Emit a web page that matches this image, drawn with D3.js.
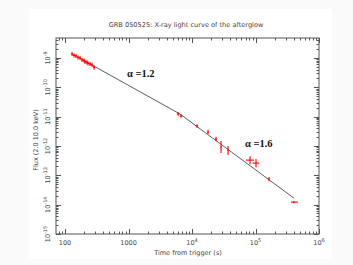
<!DOCTYPE html>
<html><head><meta charset="utf-8">
<script src="https://cdn.jsdelivr.net/npm/d3@7"></script>
<style>
html,body{margin:0;padding:0;background:#fff;}
svg{display:block;}
</style></head>
<body>
<svg id="c" width="353" height="265"></svg>
<script>
// ---- data ----
const title = "GRB 050525: X-ray light curve of the afterglow";
const xTitle = "Time from trigger (s)";
const yTitle = "Flux (2.0 10.0 keV)";
const xTickValues = [100, 1000, 1e4, 1e5, 1e6];
const xTickLabels = [["100",""],["1000",""],["10","4"],["10","5"],["10","6"]];
const yTickValues = [1e-15,1e-14,1e-13,1e-12,1e-11,1e-10,1e-9];
const yTickLabels = [["10","-15"],["10","-14"],["10","-13"],["10","-12"],["10","-11"],["10","-10"],["10","-9"]];

const time   = [128.9,138.6,149.0,160.2,172.3,185.2,199.2,206.5,222.0,230.2,247.6,266.2,286.2,
                6025,6710,12000,17860,23880,28630,36900,81900,101800,163200,403700];
const timeLo = [124,133,143,154,166,178,192,198,214,221,238,256,275,
                5750,6400,11500,17200,23000,27900,36000,70800,90000,158000,362000];
const timeHi = [134,144,155,167,179,193,207,215,231,240,258,277,298,
                6300,7050,12500,18500,24800,29400,37800,94700,115000,168000,466000];
const flux   = [1.37e-9,1.22e-9,1.17e-9,1.04e-9,1.0e-9,8.55e-10,8.22e-10,7.30e-10,7.1e-10,6.49e-10,6.24e-10,5.77e-10,4.74e-10,
                1.23e-11,1.05e-11,4.78e-12,2.98e-12,1.72e-12,9.17e-13,7.24e-13,3.30e-13,2.61e-13,7.41e-14,1.22e-14];
const fluxLo = [1.17e-9,1.04e-9,1.0e-9,8.9e-10,8.5e-10,7.3e-10,7.0e-10,6.2e-10,6.0e-10,5.5e-10,5.3e-10,4.9e-10,4.0e-10,
                1.08e-11,9.2e-12,4.2e-12,2.5e-12,1.45e-12,5.73e-13,4.89e-13,2.4e-13,1.9e-13,6.3e-14,1.12e-14];
const fluxHi = [1.6e-9,1.43e-9,1.37e-9,1.22e-9,1.18e-9,1.0e-9,9.6e-10,8.6e-10,8.4e-10,7.6e-10,7.3e-10,6.8e-10,5.6e-10,
                1.4e-11,1.2e-11,5.4e-12,3.6e-12,2.05e-12,1.47e-12,9.93e-13,4.5e-13,3.6e-13,8.7e-14,1.33e-14];
const fitTime = [129, 6460, 4.04e5];
const fitFlux = [1.37e-9, 1.23e-11, 1.66e-14];
const annotText = ["\u03b1 =1.2", "\u03b1 =1.6"];
const annotTime = [946, 6.84e4];
const annotFlux = [2.25e-10, 9.1e-13];

// ---- drawing ----
const svg = d3.select("#c");
const L=56,R=319,T=38,B=234;
const x = d3.scaleLog().domain([72,1e6]).range([L,R]);
const y = d3.scaleLog().domain([1e-15,Math.pow(10,-8.32)]).range([B,T]);
const axisColor="#555", textColor="#444";
const font="'DejaVu Sans', sans-serif";

svg.append("rect").attr("width",353).attr("height",265).attr("fill","#fafafa");
svg.append("rect").attr("x",29).attr("y",9).attr("width",303).attr("height",250).attr("fill","#fff");

svg.append("text").attr("x",186).attr("y",27).attr("text-anchor","middle")
  .attr("font-family",font).attr("font-size",6.6).attr("fill",textColor).text(title);

// frame
svg.append("rect").attr("x",L).attr("y",T).attr("width",R-L).attr("height",B-T)
  .attr("fill","none").attr("stroke",axisColor).attr("stroke-width",1);

// minor ticks
function minorTicks(dom){
  const out=[];
  for(let e=Math.floor(Math.log10(dom[0])); e<=Math.ceil(Math.log10(dom[1])); e++){
    for(let m=2;m<=9;m++){const v=m*Math.pow(10,e); if(v>dom[0]&&v<dom[1]) out.push(v);}
  }
  return out;
}
const g = svg.append("g").attr("stroke",axisColor).attr("stroke-width",1);
xTickValues.forEach(v=>{const px=Math.round(x(v))+0.5;
  g.append("line").attr("x1",px).attr("x2",px).attr("y1",B).attr("y2",B-5);
  g.append("line").attr("x1",px).attr("x2",px).attr("y1",T).attr("y2",T+5);});
minorTicks(x.domain()).forEach(v=>{const px=Math.round(x(v))+0.5;
  g.append("line").attr("x1",px).attr("x2",px).attr("y1",B).attr("y2",B-2.5);
  g.append("line").attr("x1",px).attr("x2",px).attr("y1",T).attr("y2",T+2.5);});
yTickValues.forEach(v=>{const py=Math.round(y(v))+0.5;
  g.append("line").attr("y1",py).attr("y2",py).attr("x1",L).attr("x2",L+5);
  g.append("line").attr("y1",py).attr("y2",py).attr("x1",R).attr("x2",R-5);});
minorTicks(y.domain()).forEach(v=>{const py=Math.round(y(v))+0.5;
  g.append("line").attr("y1",py).attr("y2",py).attr("x1",L).attr("x2",L+2.5);
  g.append("line").attr("y1",py).attr("y2",py).attr("x1",R).attr("x2",R-2.5);});

// x labels
xTickValues.forEach((v,i)=>{
  const t=svg.append("text").attr("x",x(v)).attr("y",245).attr("text-anchor","middle")
    .attr("font-family",font).attr("font-size",6.5).attr("fill",textColor);
  t.append("tspan").text(xTickLabels[i][0]);
  if(xTickLabels[i][1]) t.append("tspan").attr("dy",-3).attr("font-size",5).text(xTickLabels[i][1]);
});
svg.append("text").attr("x",188).attr("y",255).attr("text-anchor","middle")
  .attr("font-family",font).attr("font-size",6.5).attr("fill",textColor).text(xTitle);

// y labels (rotated)
yTickValues.forEach((v,i)=>{
  const t=svg.append("text").attr("transform",`translate(50,${y(v)}) rotate(-90)`).attr("text-anchor","middle")
    .attr("font-family",font).attr("font-size",6.5).attr("fill",textColor);
  t.append("tspan").text(yTickLabels[i][0]);
  t.append("tspan").attr("dy",-3).attr("font-size",5).text(yTickLabels[i][1]);
});
svg.append("text").attr("transform",`translate(38,140) rotate(-90)`).attr("text-anchor","middle")
  .attr("font-family",font).attr("font-size",6.5).attr("fill",textColor).text(yTitle);

// fit line
const line = d3.line().x(d=>x(d[0])).y(d=>y(d[1]));
svg.append("path").attr("d",line(fitTime.map((t,i)=>[t,fitFlux[i]])))
  .attr("fill","none").attr("stroke","#333").attr("stroke-width",0.8);

// data error bars
const eg = svg.append("g").attr("stroke","#f00").attr("stroke-width",1.1);
time.forEach((t,i)=>{
  eg.append("line").attr("x1",x(timeLo[i])).attr("x2",x(timeHi[i])).attr("y1",y(flux[i])).attr("y2",y(flux[i]));
  eg.append("line").attr("x1",x(t)).attr("x2",x(t)).attr("y1",y(fluxLo[i])).attr("y2",y(fluxHi[i]));
});

// annotations
annotText.forEach((s,i)=>{
  svg.append("text").attr("x",x(annotTime[i])).attr("y",y(annotFlux[i]))
    .attr("font-family","'Liberation Serif', serif").attr("font-weight","bold").attr("font-size",10.5)
    .attr("fill","#111").text(s);
});
</script>
</body></html>
